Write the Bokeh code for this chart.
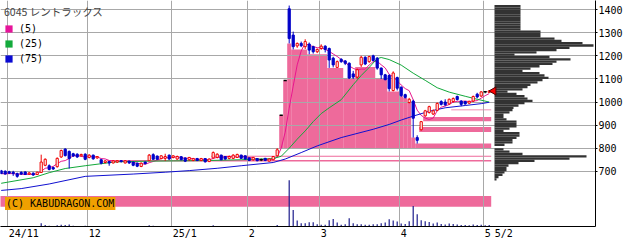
import numpy as np
import pandas as pd
from bokeh.plotting import figure
from bokeh.models import (Range1d, FixedTicker, Label, Legend, LegendItem,
                          ColumnDataSource)
from bokeh.embed import file_html
from bokeh.resources import INLINE

TITLE = "6045 レントラックス"
COPYRIGHT = "(C) KABUDRAGON.COM"

# ---- daily prices, trading days 2024-10-30 .. 2025-05-02 ----
opens = [702, 700, 698, 696, 690, 695, 697, 688, 692, 686,
         695, 726, 724, 716, 720, 762, 796, 786, 776, 774,
         767, 774, 760, 770, 758, 750, 738, 742, 736, 740,
         746, 736, 744, 740, 735, 721, 740, 746, 772, 766,
         755, 756, 770, 760, 753, 763, 758, 750, 747, 755,
         747, 755, 742, 758, 760, 770, 764, 756, 756, 760,
         770, 767, 758, 750, 755, 750, 756, 744, 750, 767,
         943, 1093, 1404, 1290, 1243, 1254, 1240, 1251, 1240, 1218,
         1232, 1242, 1232, 1190, 1150, 1185, 1178, 1168, 1122, 1108,
         1161, 1194, 1175, 1200, 1190, 1147, 1118, 1115, 1050, 1106,
         1064, 1032, 998, 1004, 846, 880, 940, 955, 948, 964,
         1002, 1000, 992, 1002, 1024, 1004, 1002, 995, 1004, 1034,
         1026, 1045, 1042]
highs = [706, 704, 702, 702, 694, 700, 700, 696, 695, 698,
         772, 756, 730, 720, 760, 794, 800, 790, 780, 778,
         776, 778, 774, 772, 766, 754, 748, 744, 748, 748,
         748, 748, 746, 742, 738, 738, 742, 775, 778, 768,
         770, 776, 772, 770, 768, 766, 760, 762, 758, 758,
         758, 757, 756, 786, 778, 772, 766, 768, 774, 776,
         772, 768, 760, 762, 757, 755, 758, 756, 766, 800,
         943, 1093, 1418, 1305, 1258, 1262, 1272, 1258, 1244, 1232,
         1250, 1246, 1236, 1196, 1180, 1190, 1182, 1172, 1135, 1145,
         1200, 1198, 1200, 1205, 1195, 1150, 1122, 1120, 1133, 1110,
         1068, 1036, 1018, 1010, 856, 918, 966, 984, 968, 998,
         1008, 1012, 1015, 1020, 1028, 1008, 1005, 1006, 1028, 1040,
         1047, 1046, 1052]
lows = [688, 686, 688, 680, 672, 684, 684, 684, 680, 684,
        693, 722, 704, 706, 716, 758, 764, 712, 762, 758,
        764, 748, 756, 750, 754, 730, 734, 724, 734, 736,
        738, 734, 732, 722, 718, 718, 730, 744, 750, 750,
        752, 745, 750, 756, 750, 748, 740, 746, 744, 744,
        744, 738, 740, 756, 756, 748, 750, 752, 754, 758,
        754, 750, 744, 746, 743, 744, 744, 742, 748, 765,
        943, 1093, 1254, 1228, 1235, 1238, 1230, 1207, 1210, 1212,
        1226, 1215, 1148, 1150, 1148, 1170, 1160, 1100, 1100, 1100,
        1152, 1160, 1170, 1176, 1140, 1100, 1094, 1046, 1046, 1050,
        1022, 1015, 994, 846, 820, 876, 936, 950, 944, 960,
        985, 982, 988, 998, 1006, 982, 988, 992, 1000, 1016,
        1022, 1038, 1040]
closes = [690, 688, 692, 690, 678, 688, 686, 693, 684, 696,
          740, 752, 708, 710, 756, 790, 768, 755, 766, 762,
          773, 752, 770, 754, 764, 735, 745, 736, 745, 746,
          742, 745, 736, 726, 722, 735, 733, 770, 752, 752,
          767, 764, 753, 767, 764, 750, 744, 760, 755, 747,
          755, 741, 753, 781, 774, 750, 753, 764, 770, 773,
          756, 753, 747, 760, 746, 750, 747, 753, 764, 793,
          943, 1093, 1275, 1240, 1254, 1244, 1262, 1225, 1218, 1228,
          1242, 1228, 1182, 1161, 1175, 1175, 1168, 1104, 1108, 1140,
          1194, 1165, 1197, 1180, 1147, 1118, 1097, 1058, 1126, 1060,
          1028, 1020, 1012, 930, 834, 915, 962, 980, 962, 994,
          990, 988, 1012, 1015, 1011, 990, 992, 1003, 1024, 1022,
          1044, 1045, 1048]
volumes = [40, 30, 50, 30, 60, 30, 40, 30, 30, 40,
           320, 150, 80, 50, 120, 180, 150, 200, 80, 60,
           50, 70, 60, 50, 40, 60, 40, 40, 30, 30,
           30, 30, 30, 50, 40, 40, 30, 120, 80, 40,
           40, 50, 40, 30, 30, 30, 40, 30, 30, 30,
           30, 40, 30, 110, 60, 50, 40, 30, 40, 40,
           30, 30, 30, 30, 30, 20, 30, 30, 60, 150,
           40, 60, 4500, 1600, 580, 320, 320, 415, 415, 220,
           180, 180, 610, 740, 400, 180, 220, 800, 320, 220,
           220, 180, 180, 220, 220, 320, 390, 700, 580, 480,
           300, 250, 500, 2000, 1200, 600, 500, 450, 300, 400,
           250, 200, 300, 250, 200, 150, 150, 120, 200, 150,
           180, 120, 150]

# moving averages (day index, price)
ma25_day = [0, 8, 12, 16, 21, 26, 29, 37, 43, 50, 60, 68, 70, 72, 74, 76, 78,
            80, 82, 85, 88, 90, 92, 94, 95, 97, 100, 103, 106, 109, 112, 116, 119, 122]
ma25_val = [648, 672, 694, 712, 724, 735, 741, 744, 745, 746, 750, 755, 765, 800, 839, 875, 915,
            950, 975, 1010, 1075, 1115, 1150, 1188, 1193, 1184, 1160, 1125, 1094, 1062, 1043, 1025, 1012, 1000]
ma75_day = [0, 5, 12, 21, 33, 41, 47, 54, 60, 68, 71, 75, 79, 85, 93, 97, 100,
            103, 107, 111, 116, 120, 122]
ma75_val = [617, 625, 645, 678, 688, 696, 703, 713, 724, 738, 753, 781, 810, 846, 882, 903, 922,
            939, 960, 975, 985, 993, 999]

# unfilled price gaps (first day, last day, low, high)
gap_first = [0, 27, 53, 70, 71, 72, 73, 77, 82, 86, 89, 94, 97, 100, 101, 102, 103, 104, 105, 106, 113]
gap_last = [122, 122, 122, 70, 71, 72, 76, 81, 85, 88, 93, 96, 99, 100, 101, 102, 103, 122, 122, 122, 122]
gap_low = [546, 742, 763, 800, 800, 800, 800, 800, 800, 800, 800, 800, 800, 800, 800, 800, 800, 800, 870, 917, 964]
gap_high = [593, 749, 767, 943, 1093, 1254, 1228, 1207, 1148, 1100, 1152, 1100, 1046, 1025, 1018, 996, 846, 820, 892, 935, 968]

# volume by price (10-yen bins, lower edge) in thousand shares
profile_low = [660, 670, 680, 690, 700, 710, 720, 730, 740, 750, 760, 770, 780, 790,
               800, 810, 820, 830, 840, 850, 860, 870, 880, 890, 900,
               910, 920, 930, 940, 950, 960, 970, 980, 990, 1000,
               1010, 1020, 1030, 1040, 1050, 1060, 1070, 1080, 1090, 1100,
               1110, 1120, 1130, 1140, 1150, 1160, 1170, 1180, 1190, 1200,
               1210, 1220, 1230, 1240, 1250, 1260, 1270, 1280, 1290, 1300,
               1310, 1320, 1330, 1340, 1350, 1360, 1370, 1380, 1390, 1400, 1410]
profile_vol = [100, 200, 400, 500, 600, 600, 700, 1200, 2000, 3750, 4600, 1400, 750, 450,
               0, 500, 900, 900, 1100, 1250, 1250, 450, 750, 1100, 1100,
               1100, 600, 450, 450, 750, 900, 950, 1200, 1500, 1900,
               1650, 1500, 1100, 650, 1400, 1650, 1800, 2150, 2400, 2700,
               2500, 2250, 1400, 1800, 2250, 2900, 3100, 3800, 2750, 1000,
               2100, 3100, 3750, 4950, 4400, 3350, 3000, 2300, 2300, 2300,
               1300, 1300, 1300, 1300, 1300, 1300, 1300, 1300, 1300, 1300, 1300]

month_labels = ["24/11", "12", "25/1", "2", "3", "4", "5"]
month_start_day = [2, 22, 43, 62, 80, 100, 121]
last_label = "5/2"
y_ticks = [700, 800, 900, 1000, 1100, 1200, 1300, 1400]
ma_labels = ["(5)", "(25)", "(75)"]

C5, C25, C75 = "#E8168E", "#12A83A", "#1010D0"
LEG5, LEG25, LEG75 = "#E6149A", "#14AA3C", "#0A0AD2"
UP, DOWN, FLAT = "#F00000", "#0000C8", "#000000"
PINK = "#EE6A9B"
MONO = "DejaVu Sans Mono"
PX_PER_DAY = 4.0       # 595 px frame / 148.75 days
CHAR_W = 6.02          # DejaVu Sans Mono advance at 10px

n = len(closes)
day = np.arange(n)
o = np.array(opens, float)
c = np.array(closes, float)
h = np.array(highs, float)
l = np.array(lows, float)
ma5 = pd.Series(c).rolling(5, min_periods=1).mean().to_numpy()

p = figure(width=640, height=241, output_backend="svg", toolbar_location=None,
           x_range=Range1d(-0.175, 148.575), y_range=Range1d(460.8, 1439.9),
           x_axis_location="below", y_axis_location="right",
           min_border_left=0, min_border_right=45, min_border_top=0, min_border_bottom=13,
           outline_line_color=None, background_fill_color="white", border_fill_color="white")
p.extra_y_ranges = {"vol": Range1d(0, 22000)}
p.extra_x_ranges = {"prof": Range1d(-24700, 5050)}

# grids
for g in (p.xgrid, p.ygrid):
    g.grid_line_color = "#A8A8A8"
    g.grid_line_width = 1
p.ygrid.ticker = FixedTicker(ticks=y_ticks)

# right price axis
p.yaxis.ticker = FixedTicker(ticks=y_ticks)
p.yaxis.axis_line_color = "black"
p.yaxis.major_tick_out = 2
p.yaxis.major_tick_in = 0
p.yaxis.minor_tick_line_color = None
p.yaxis.major_label_standoff = 1
p.yaxis.major_label_text_font = MONO
p.yaxis.major_label_text_font_size = "10px"
p.yaxis.major_label_text_color = "black"

# bottom date axis: labels sit just right of each month line
lab_pos, lab_txt = [], []
for lab, d in zip(month_labels, month_start_day):
    lab_pos.append(d - 0.5 + (len(lab) * CHAR_W / 2 + 1.5) / PX_PER_DAY)
    lab_txt.append(lab)
lab_pos.append(n - 0.5 + (len(last_label) * CHAR_W / 2 + 3.5) / PX_PER_DAY)
lab_txt.append(last_label)
p.xaxis.ticker = FixedTicker(ticks=lab_pos)
p.xaxis.major_label_overrides = {float(t): s for t, s in zip(lab_pos, lab_txt)}
p.xaxis.major_tick_out = 0
p.xaxis.major_tick_in = 0
p.xaxis.minor_tick_line_color = None
p.xaxis.major_label_standoff = 1
p.xaxis.major_label_text_font = MONO
p.xaxis.major_label_text_font_size = "10px"
p.xaxis.major_label_text_color = "black"
p.xaxis.axis_line_color = "black"
p.xgrid.ticker = FixedTicker(ticks=[d - 0.5 for d in month_start_day])

# gap boxes (drawn beneath the grid)
gsrc = ColumnDataSource(dict(left=np.array(gap_first) - 0.5, right=np.array(gap_last) + 0.5,
                             bottom=gap_low, top=gap_high))
gr = p.quad(left="left", right="right", bottom="bottom", top="top", source=gsrc,
            fill_color=PINK, line_color=None)
gr.level = "image"

# volume by price profile
pb = np.array(profile_low, float)
p.hbar(y=pb + 5, height=10, left=0, right=profile_vol, x_range_name="prof",
       fill_color="#333333", line_color=None)

# volume bars
p.vbar(x=day, top=volumes, bottom=0, width=0.3, y_range_name="vol",
       fill_color="#1C1C8C", line_color=None)

# moving averages
p.line(day, ma5, line_color=C5, line_width=1)
p.line(ma25_day, ma25_val, line_color=C25, line_width=1)
p.line(ma75_day, ma75_val, line_color=C75, line_width=1)

# candles
col = np.where(c > o, UP, np.where(c < o, DOWN, FLAT))
p.segment(x0=day, y0=l, x1=day, y1=h, line_color=col, line_width=1)
upm = c > o
dnm = c < o
flm = c == o
p.vbar(x=day[upm], bottom=o[upm], top=c[upm], width=0.55, fill_color="white",
       line_color=UP, line_width=1)
p.vbar(x=day[dnm], bottom=c[dnm], top=o[dnm], width=0.55, fill_color=DOWN,
       line_color=DOWN, line_width=1)
p.segment(x0=day[flm] - 0.4, y0=c[flm], x1=day[flm] + 0.4, y1=c[flm],
          line_color=FLAT, line_width=1.5)

# last price marker
p.scatter(x=[day[-1] + 1.1], y=[c[-1]], marker="triangle", angle=np.pi / 2, size=8,
          fill_color="#FF0000", line_color="#500000", line_width=1)

# legend (proxy swatches with a single NaN row so the legend can draw them)
items = []
for lab, colr in zip(ma_labels, [LEG5, LEG25, LEG75]):
    r = p.quad(left=[np.nan], right=[np.nan], top=[np.nan], bottom=[np.nan],
               fill_color=colr, line_color=None)
    items.append(LegendItem(label=lab, renderers=[r]))
leg = Legend(items=items, title=TITLE, location="top_left", margin=0, padding=4,
             title_standoff=3, label_height=12, glyph_height=9, glyph_width=9,
             spacing=3, label_standoff=6, background_fill_alpha=0, border_line_alpha=0,
             title_text_font="Noto Sans CJK JP", title_text_font_size="10.5px",
             title_text_font_style="normal", label_text_font=MONO,
             label_text_font_size="10px", label_text_color="black")
p.add_layout(leg)

# copyright tag
p.add_layout(Label(x=p.x_range.start, y=526, text=COPYRIGHT, x_offset=4.5, y_offset=1.5,
                   text_align="left", text_baseline="bottom", text_font=MONO,
                   text_font_size="10px", text_color="black",
                   background_fill_color="#F0A000", padding=1))

open("out.html", "w").write(file_html(p, INLINE))
